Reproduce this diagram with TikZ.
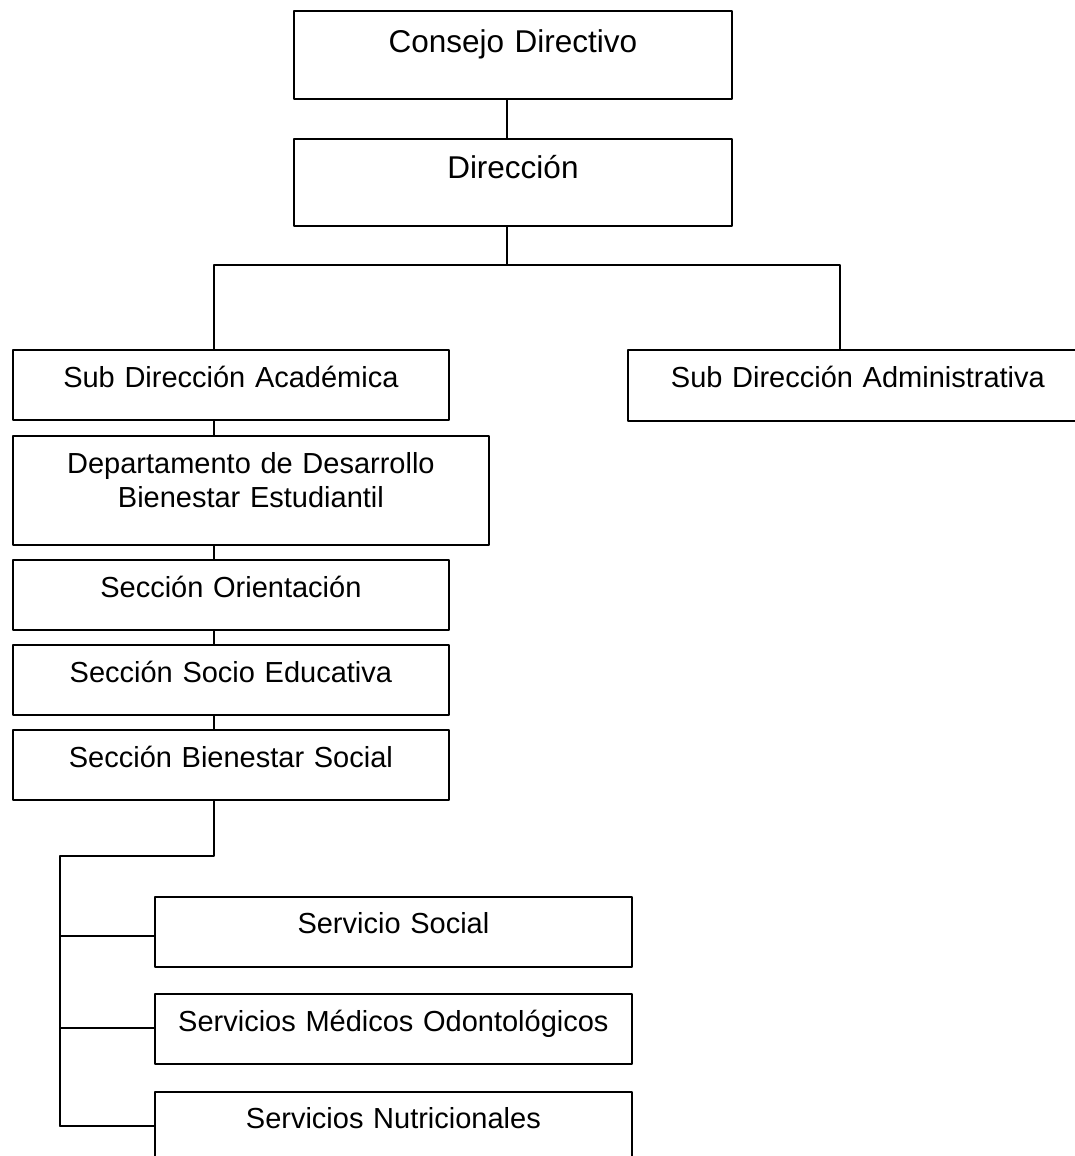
\documentclass[tikz,border=0pt]{standalone}
\usepackage{fontspec}
\setmainfont{Liberation Sans}

\begin{document}
\begin{tikzpicture}[x = 1pt, y = -1pt, line width = 1.8pt, line cap = round,
  line join = round, unit/.style = {draw, inner sep = 0pt, anchor = north west,
  align = center, font = \fontsize{29}{34}\selectfont},
  head/.style = {unit, font = \fontsize{31.5}{36}\selectfont}]
  \useasboundingbox (0, 0) rectangle (1074, 1156);

  \node[head, text width = 438pt, text height = 42pt, text depth = 46pt] (CD)
  at (293, 10) {Consejo Directivo};
  \node[head, text width = 438pt, text height = 40pt, text depth = 47pt] (DI)
  at (293, 138) {Dirección};

  \node[unit, text width = 436pt, text height = 38pt, text depth = 32pt] (SA)
  at (12, 349) {Sub Dirección Académica};
  \node[unit, text width = 460pt, text height = 38pt, text depth = 33pt] (SD)
  at (627, 349) {Sub Dirección Administrativa};

  \node[unit, text width = 476pt, text height = 38pt, text depth = 71pt] (DE)
  at (12, 435) {Departamento de Desarrollo\\ Bienestar Estudiantil};
  \node[unit, text width = 436pt, text height = 38pt, text depth = 32pt] (SO)
  at (12, 559) {Sección Orientación};
  \node[unit, text width = 436pt, text height = 38pt, text depth = 32pt] (SE)
  at (12, 644) {Sección Socio Educativa};
  \node[unit, text width = 436pt, text height = 38pt, text depth = 32pt] (SB)
  at (12, 729) {Sección Bienestar Social};

  \node[unit, text width = 477pt, text height = 37pt, text depth = 33pt] (SS)
  at (154, 896) {Servicio Social};
  \node[unit, text width = 477pt, text height = 38pt, text depth = 32pt] (SM)
  at (154, 993) {Servicios Médicos Odontológicos};
  \node[unit, text width = 477pt, text height = 37pt, text depth = 33pt] (SN)
  at (154, 1091) {Servicios Nutricionales};

  \coordinate (T) at (507, 265);
  \coordinate (L) at (214, 265);
  \coordinate (R) at (840, 265);
  \coordinate (K) at (60, 856);
  \coordinate (K3) at (60, 1126);

  \draw (CD.south -| T) -- (DI.north -| T);
  \draw (DI.south -| T) -- (T);
  \draw (SA.north -| L) -- (L) -- (R) -- (SD.north -| R);

  \foreach \a/\b in {SA/DE, DE/SO, SO/SE, SE/SB}
    \draw (\a.south -| L) -- (\b.north -| L);

  \draw (SB.south -| L) |- (K) -- (K3);
  \foreach \n/\y in {SS/936, SM/1028, SN/1126}
    \draw (60, \y) coordinate (J) -- (J -| \n.west);
\end{tikzpicture}
\end{document}
